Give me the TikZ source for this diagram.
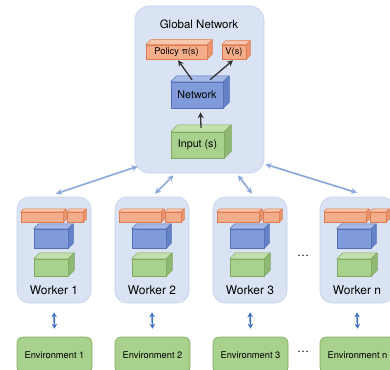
\documentclass[tikz,border=0pt]{standalone}
\usepackage{fontspec}
\setmainfont{TeX Gyre Heros}
\usetikzlibrary{arrows.meta}
\definecolor{panelfill}{HTML}{DAE3F3}
\definecolor{panelline}{HTML}{C3D1EA}
\definecolor{orfill}{HTML}{F4AD8A}
\definecolor{ortop}{HTML}{F8C6AC}
\definecolor{orside}{HTML}{E8936C}
\definecolor{orline}{HTML}{E07B4F}
\definecolor{blfill}{HTML}{7F9BD9}
\definecolor{bltop}{HTML}{A5B8E6}
\definecolor{blside}{HTML}{6682C6}
\definecolor{blline}{HTML}{5570B8}
\definecolor{grfill}{HTML}{A9D18E}
\definecolor{grtop}{HTML}{C3DFAE}
\definecolor{grside}{HTML}{8FB874}
\definecolor{grline}{HTML}{7FAA60}
\definecolor{linkblue}{HTML}{8EAADB}
\definecolor{envarrow}{HTML}{4472C4}
\tikzset{
  panel/.style={draw=panelline, fill=panelfill, line width=0.6pt, rounded corners=14pt},
  envbox/.style={draw=grline, fill=grfill, line width=0.6pt, rounded corners=6pt, font=\fontsize{9.3}{10}\selectfont},
  link/.style={draw=linkblue, line width=1.7pt, {Stealth[length=6pt,width=6pt]}-{Stealth[length=6pt,width=6pt]}},
  envlink/.style={draw=envarrow, line width=1.6pt, {Stealth[length=5pt,width=5.5pt]}-{Stealth[length=5pt,width=5.5pt]}},
  inner/.style={draw=black!80, line width=1.3pt, -{Stealth[length=6pt,width=6pt]}},
  lbl/.style={font=\fontsize{12}{13}\selectfont},
}
% #1 name, #2 x1, #3 y1, #4 x2, #5 y2, #6 depth, #7 colour prefix, #8 text, #9 font size
\newcommand\cuboid[9]{%
  \node[draw=#7line, fill=#7fill, line width=0.5pt, inner sep=0pt,
        minimum width={((#4)-(#2))*1pt}, minimum height={((#5)-(#3))*1pt},
        font=\fontsize{#9}{#9}\selectfont]
        (#1) at ({((#2)+(#4))/2},{((#3)+(#5))/2}) {#8};
  \filldraw[draw=#7line, fill=#7top, line width=0.5pt, line join=round]
    (#1.north west) -- ++(#6,-#6) -- ([shift={(#6,-#6)}]#1.north east) -- (#1.north east) -- cycle;
  \filldraw[draw=#7line, fill=#7side, line width=0.5pt, line join=round]
    (#1.north east) -- ++(#6,-#6) -- ([shift={(#6,-#6)}]#1.south east) -- (#1.south east) -- cycle;
}
\begin{document}
\begin{tikzpicture}[x=1pt,y=-1pt]
\useasboundingbox (0,0) rectangle (390,369);
\clip (0,0) rectangle (390,369);
% global network
\node[panel, minimum width=129pt, minimum height=167pt] (glob) at (199.5,89.5) {};
\node[font=\fontsize{11.5}{12}\selectfont] (gtitle) at (199,24) {Global Network};
\cuboid{pol}{146}{45}{207}{59}{5}{or}{Policy π(s)}{9.3}
\cuboid{val}{222}{45}{246}{59}{4}{or}{V(s)}{9.3}
\cuboid{net}{171}{82}{223}{108}{6}{bl}{Network}{10.7}
\cuboid{inp}{171}{132}{224}{158}{7}{gr}{Input (s)}{10.7}
\draw[inner] ([shift={(-5,-2)}]net.north) -- ([shift={(1.5,1)}]pol.south);
\draw[inner] ([shift={(13,-2)}]net.north) -- ([shift={(-1,1)}]val.south);
\draw[inner] ([shift={(3.5,-4)}]inp.north) -- ([shift={(3.5,4)}]net.south);
% workers and environments
\foreach \L/\k/\n in {17/1/1, 115/2/2, 213/3/3, 320/4/n}{
  \node[panel, rounded corners=12pt, minimum width=74pt, minimum height=106pt] (w\k) at (\L+37,250) {};
  \cuboid{wo\k}{\L+4}{212}{\L+46}{222}{3}{or}{}{8}
  \cuboid{wv\k}{\L+50}{212}{\L+66}{222}{3}{or}{}{8}
  \cuboid{wb\k}{\L+17}{229}{\L+51}{248}{5}{bl}{}{8}
  \cuboid{wg\k}{\L+17}{259}{\L+51}{276}{6}{gr}{}{8}
  \node[lbl] (wl\k) at (\L+37,290) {Worker \n};
  \node[envbox, minimum width=75pt, minimum height=36pt] (e\k) at (\L+37.5,355) {Environment \n};
  \draw[envlink] ([shift={(0,9)}]w\k.south) -- ([shift={(0,-8)}]e\k.north);
}
\node[font=\fontsize{12}{12}\selectfont] (dots1) at (303,256) {\dots};
\node[font=\fontsize{12}{12}\selectfont] (dots2) at (303,352) {\dots};
% links global <-> workers
\draw[link] ([shift={(3,-7)}]glob.south west) -- ([shift={(2,-3)}]w1.north);
\draw[link] ([shift={(-26,2)}]glob.south) -- ([shift={(3,-3)}]w2.north);
\draw[link] ([shift={(38.5,2)}]glob.south) -- ([shift={(2,-3)}]w3.north);
\draw[link] ([shift={(1,-9)}]glob.south east) -- ([shift={(0,-4)}]w4.north);
\end{tikzpicture}
\end{document}
